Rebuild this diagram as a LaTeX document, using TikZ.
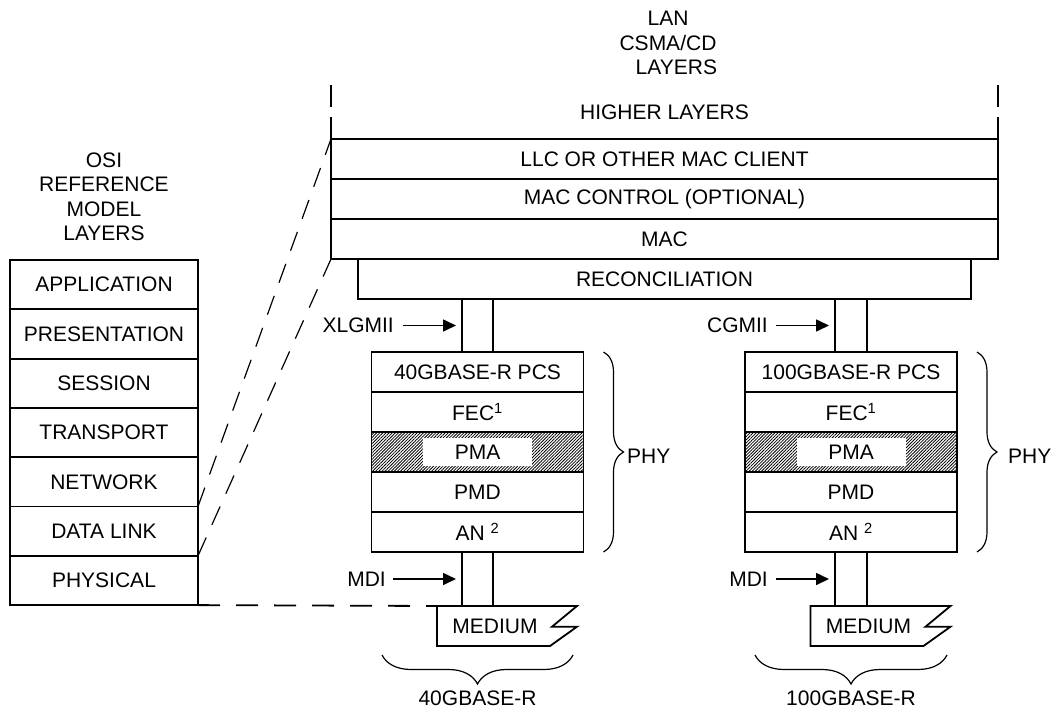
\documentclass[tikz,border=0pt]{standalone}
\usepackage{fontspec}
\setmainfont{Liberation Sans}
\usetikzlibrary{positioning,arrows.meta,decorations.pathreplacing,patterns.meta}

\tikzset{
  box/.style={draw, line width=1.8pt, outer sep=0pt, inner sep=0pt},
  osi/.style={box, minimum width=188pt, minimum height=49.3pt},
  lan/.style={box, minimum width=667pt, minimum height=40pt},
  phy/.style={box, minimum width=212pt, minimum height=40pt},
  hatch/.style={phy, pattern={Lines[angle=45,distance=2.2pt,line width=0.8pt]}},
  lbl/.style={inner sep=0pt, align=center},
  arr/.style={-{Triangle[length=13pt,width=12pt]}, line width=1.6pt},
  link/.style={line width=1.8pt},
  guide/.style={line width=1.2pt, dash pattern=on 20pt off 14pt},
  curly/.style={decorate, decoration={brace, amplitude=#1}, line width=1.2pt},
}

\begin{document}
\begin{tikzpicture}[x=1pt, y=-1pt, font=\fontsize{21}{24.5}\selectfont]
  \useasboundingbox (0,0) rectangle (1053,710);

  % OSI stack
  \node[lbl] (osilbl) at (104,197) {OSI\\REFERENCE\\MODEL\\LAYERS};
  \node[osi] (app) at (104,284.65) {APPLICATION};
  \node[osi, below=0pt of app] (pres) {PRESENTATION};
  \node[osi, below=0pt of pres] (sess) {SESSION};
  \node[osi, below=0pt of sess] (trans) {TRANSPORT};
  \node[osi, below=0pt of trans] (net) {NETWORK};
  \node[osi, below=0pt of net] (dlink) {DATA LINK};
  \node[osi, below=0pt of dlink] (phys) {PHYSICAL};

  % LAN CSMA/CD stack
  \node[lbl] (lanlbl) at (668,43) {LAN\\CSMA/CD\\\hspace*{0.8em}LAYERS};
  \node[lbl, minimum width=667pt, minimum height=54pt] (higher) at (664.5,112) {HIGHER LAYERS};
  \draw[link, dash pattern=on 22pt off 10pt] (higher.north west) -- (higher.south west);
  \draw[link, dash pattern=on 22pt off 10pt] (higher.north east) -- (higher.south east);
  \node[lan] (llc) at (664.5,159) {LLC OR OTHER MAC CLIENT};
  \node[lan, below=0pt of llc] (macctl) {MAC CONTROL (OPTIONAL)};
  \node[lan, below=0pt of macctl] (mac) {MAC};
  \node[box, minimum width=613pt, minimum height=40pt, below=0pt of mac] (recon) {RECONCILIATION};

  % 40G PHY
  \node[phy] (pcsA) at (477.5,372) {40GBASE-R PCS};
  \node[phy, below=0pt of pcsA] (fecA) {FEC\textsuperscript{1}};
  \node[hatch, below=0pt of fecA] (pmaA) {};
  \node[fill=white, inner sep=0pt, minimum width=109pt, minimum height=28pt] (pmatA) at (pmaA) {PMA};
  \node[phy, below=0pt of pmaA] (pmdA) {PMD};
  \node[phy, below=0pt of pmdA] (anA) {AN \textsuperscript{2}};
  \node[minimum width=140pt, minimum height=40pt, inner sep=0pt, outer sep=0pt] (medA) at (507,626) {MEDIUM\hspace*{24pt}};
  \draw[link] (medA.north west) -- (medA.north east) -- ++(-25,20.7) -- ++(25,0)
    -- ([xshift=-27pt]medA.south east) -- (medA.south west) -- cycle;

  % 100G PHY
  \node[phy] (pcsB) at (851,372) {100GBASE-R PCS};
  \node[phy, below=0pt of pcsB] (fecB) {FEC\textsuperscript{1}};
  \node[hatch, below=0pt of fecB] (pmaB) {};
  \node[fill=white, inner sep=0pt, minimum width=109pt, minimum height=28pt] (pmatB) at (pmaB) {PMA};
  \node[phy, below=0pt of pmaB] (pmdB) {PMD};
  \node[phy, below=0pt of pmdB] (anB) {AN \textsuperscript{2}};
  \node[minimum width=140pt, minimum height=40pt, inner sep=0pt, outer sep=0pt] (medB) at (880.5,626) {MEDIUM\hspace*{24pt}};
  \draw[link] (medB.north west) -- (medB.north east) -- ++(-25,20.7) -- ++(25,0)
    -- ([xshift=-27pt]medB.south east) -- (medB.south west) -- cycle;

  % interfaces
  \coordinate (xlA) at ([xshift=-15.5pt]pcsA.north);
  \coordinate (xrA) at ([xshift=15.5pt]pcsA.north);
  \coordinate (mlA) at ([xshift=-15.5pt]anA.south);
  \coordinate (mrA) at ([xshift=15.5pt]anA.south);
  \coordinate (xlB) at ([xshift=-16pt]pcsB.north);
  \coordinate (xrB) at ([xshift=16pt]pcsB.north);
  \coordinate (mlB) at ([xshift=-16pt]anB.south);
  \coordinate (mrB) at ([xshift=16pt]anB.south);
  \draw[link] (xlA) -- (xlA |- recon.south) (xrA) -- (xrA |- recon.south);
  \draw[link] (mlA) -- (mlA |- medA.north) (mrA) -- (mrA |- medA.north);
  \draw[link] (xlB) -- (xlB |- recon.south) (xrB) -- (xrB |- recon.south);
  \draw[link] (mlB) -- (mlB |- medB.north) (mrB) -- (mrB |- medB.north);

  \node[lbl, anchor=east] (xlgmii) at (394,325.5) {XLGMII};
  \node[lbl, anchor=east] (cgmii) at (768,325.5) {CGMII};
  \node[lbl, anchor=east] (mdiA) at (386,579) {MDI};
  \node[lbl, anchor=east] (mdiB) at (768,579) {MDI};
  \draw[arr, shorten <=9pt, shorten >=6pt] (xlgmii) -- (xlgmii -| xlA);
  \draw[arr, shorten <=8pt, shorten >=6pt] (cgmii) -- (cgmii -| xlB);
  \draw[arr, shorten <=7pt, shorten >=6pt] (mdiA) -- (mdiA -| mlA);
  \draw[arr, shorten <=8pt, shorten >=6pt] (mdiB) -- (mdiB -| mlB);

  % OSI to LAN mapping
  \draw[guide] (dlink.north east) -- (llc.north west);
  \draw[guide] (phys.north east) -- (mac.south west);
  \draw[link, dash pattern=on 22pt off 16pt] (phys.south east) -- (medA.north west);

  % braces
  \draw[curly=20pt] ([xshift=20pt]pcsA.north east) -- ([xshift=20pt]anA.south east);
  \node[lbl, anchor=west] (phyA) at (627,456) {PHY};
  \draw[curly=20pt] ([xshift=20pt]pcsB.north east) -- ([xshift=20pt]anB.south east);
  \node[lbl, anchor=west] (phyB) at (1008,456) {PHY};
  \draw[curly=29pt, decoration={mirror}] (382,655) -- (573,655);
  \node[lbl] (baseA) at (477.5,698) {40GBASE-R};
  \draw[curly=29pt, decoration={mirror}] (755,655) -- (947,655);
  \node[lbl] (baseB) at (851,698) {100GBASE-R};
\end{tikzpicture}
\end{document}
